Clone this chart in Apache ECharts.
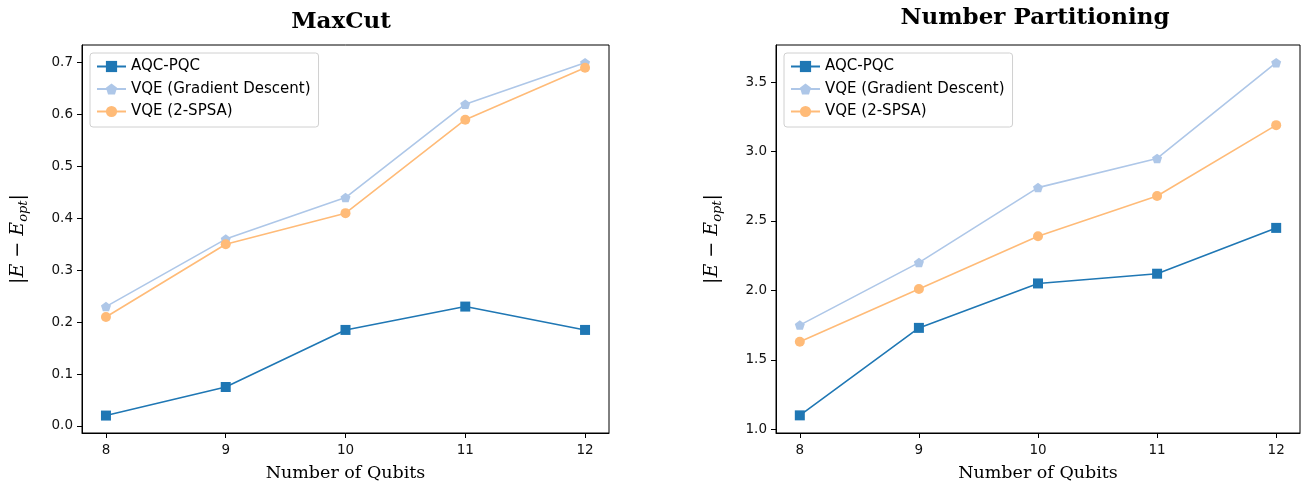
<!DOCTYPE html>
<html>
<head>
<meta charset="utf-8">
<script src="https://cdn.jsdelivr.net/npm/echarts@6/dist/echarts.min.js"></script>
<style>
  html, body { margin: 0; padding: 0; background: #fff; }
  #chart { width: 1301px; height: 487px; }
</style>
</head>
<body>
<div id="chart"></div>
<script>
const qubits = [8, 9, 10, 11, 12]

// MaxCut
const maxcutAqc = [0.02, 0.075, 0.185, 0.23, 0.185]
const maxcutGd = [0.23, 0.36, 0.44, 0.62, 0.70]
const maxcutSpsa = [0.21, 0.35, 0.41, 0.59, 0.69]
const maxcutTicks = [0, 0.1, 0.2, 0.3, 0.4, 0.5, 0.6, 0.7]

// Number Partitioning
const npAqc = [1.10, 1.73, 2.05, 2.12, 2.45]
const npGd = [1.75, 2.20, 2.74, 2.95, 3.64]
const npSpsa = [1.63, 2.01, 2.39, 2.68, 3.19]
const npTicks = [1.0, 1.5, 2.0, 2.5, 3.0, 3.5]

const seriesNames = ['AQC-PQC', 'VQE (Gradient Descent)', 'VQE (2-SPSA)']
const colors = ['#1f77b4', '#aec7e8', '#ffbb78']
const pentagon = 'path://M0,-1 L0.951,-0.309 L0.588,0.809 L-0.588,0.809 L-0.951,-0.309 Z'
const symbols = ['rect', pentagon, 'circle']
const symbolSizes = [10, 10, 10]

const pair = (ys) => qubits.map((x, i) => [x, ys[i]])

const makeSeries = (idx, lists) => lists.map((ys, k) => ({
    name: seriesNames[k],
    type: 'line',
    xAxisIndex: idx,
    yAxisIndex: idx,
    data: pair(ys),
    symbol: symbols[k],
    symbolSize: symbolSizes[k],
    symbolKeepAspect: true,
    showAllSymbol: true,
    color: colors[k],
    lineStyle: { width: 1.6, color: colors[k] },
    itemStyle: { color: colors[k] },
    emphasis: { disabled: true },
    animation: false,
}))

const tickFont = { fontFamily: 'DejaVu Sans', fontSize: 13.5, color: '#111' }

const xAxisOf = (idx) => ({
    type: 'value',
    gridIndex: idx,
    min: 7.8,
    max: 12.2,
    name: 'Number of Qubits',
    nameLocation: 'middle',
    nameGap: 31,
    nameTextStyle: { fontFamily: 'DejaVu Serif', fontSize: 17.5, color: '#000' },
    axisLine: { show: true, onZero: false, lineStyle: { color: '#000', width: 1 } },
    axisTick: { show: true, length: 5, customValues: qubits, lineStyle: { color: '#000' } },
    axisLabel: Object.assign({ margin: 10, customValues: qubits }, tickFont),
    splitLine: { show: false },
})

const yName = '{m||E − E}{s|opt}{m||}'
const yAxisOf = (idx, min, max, ticks) => ({
    type: 'value',
    gridIndex: idx,
    min: min,
    max: max,
    name: yName,
    nameLocation: 'middle',
    nameRotate: 90,
    nameGap: 52,
    nameTextStyle: {
        rich: {
            m: { fontFamily: 'DejaVu Serif', fontStyle: 'italic', fontSize: 19, color: '#000', lineHeight: 24, verticalAlign: 'middle' },
            s: { fontFamily: 'DejaVu Serif', fontStyle: 'italic', fontSize: 13, color: '#000', lineHeight: 13, verticalAlign: 'bottom' },
        },
    },
    axisLine: { show: true, onZero: false, lineStyle: { color: '#000', width: 1 } },
    axisTick: { show: true, length: 5, customValues: ticks, lineStyle: { color: '#000' } },
    axisLabel: Object.assign({ margin: 9, customValues: ticks, formatter: (v) => v.toFixed(1) }, tickFont),
    splitLine: { show: false },
})

const legendOf = (left) => ({
    orient: 'vertical',
    left: left,
    top: 53,
    data: seriesNames,
    itemWidth: 29,
    itemHeight: 14,
    itemGap: 7.5,
    padding: [6, 8, 8, 6],
    backgroundColor: '#fff',
    borderColor: '#d0d0d0',
    borderWidth: 1,
    borderRadius: 3,
    selectedMode: false,
    textStyle: { fontFamily: 'DejaVu Sans', fontSize: 15, color: '#000' },
})

const titleStyle = { fontFamily: 'DejaVu Serif', fontSize: 23, fontWeight: 'bold', color: '#000' }

const chart = echarts.init(document.getElementById('chart'), null, { renderer: 'canvas' })
chart.setOption({
    backgroundColor: '#fff',
    animation: false,
    title: [
        { text: 'MaxCut', left: 336, top: 6, textAlign: 'center', textStyle: titleStyle },
        { text: 'Number Partitioning', left: 1030, top: 2, textAlign: 'center', textStyle: titleStyle },
    ],
    legend: [legendOf(90), legendOf(784)],
    grid: [
        { left: 82, top: 45, width: 527, height: 391, show: true, borderColor: '#000', borderWidth: 1, backgroundColor: 'transparent' },
        { left: 776, top: 45, width: 524, height: 391, show: true, borderColor: '#000', borderWidth: 1, backgroundColor: 'transparent' },
    ],
    xAxis: [xAxisOf(0), xAxisOf(1)],
    yAxis: [
        yAxisOf(0, -0.0136, 0.734, maxcutTicks),
        yAxisOf(1, 0.973, 3.767, npTicks),
    ],
    series: [
        ...makeSeries(0, [maxcutAqc, maxcutGd, maxcutSpsa]),
        ...makeSeries(1, [npAqc, npGd, npSpsa]),
    ],
})
</script>
</body>
</html>
